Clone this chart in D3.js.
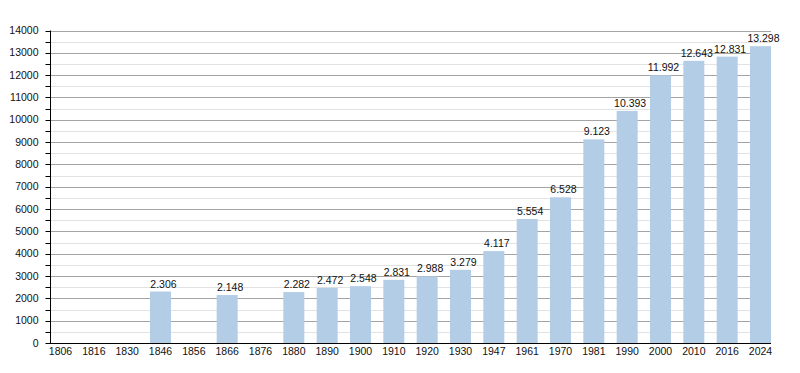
<!DOCTYPE html>
<html>
<head>
<meta charset="utf-8">
<script src="https://cdn.jsdelivr.net/npm/d3@7"></script>
<style>
  html, body { margin: 0; padding: 0; background: #fff; }
  svg { display: block; font-family: "Liberation Sans", Arial, sans-serif; }
</style>
</head>
<body>
<div class="chart"></div>
<script>
var years = ['1806', '1816', '1830', '1846', '1856', '1866', '1876', '1880', '1890', '1900', '1910',
    '1920', '1930', '1947', '1961', '1970', '1981', '1990', '2000', '2010', '2016', '2024'];
var population = [null, null, null, 2306, null, 2148, null, 2282, 2472, 2548, 2831,
    2988, 3279, 4117, 5554, 6528, 9123, 10393, 11992, 12643, 12831, 13298];
var yTicks = [0, 1000, 2000, 3000, 4000, 5000, 6000, 7000, 8000, 9000, 10000, 11000, 12000, 13000, 14000];

draw();

function draw() {
    var width = 800;
    var height = 373;

    var svg = d3.select('.chart')
        .append('svg')
        .attr('width', width)
        .attr('height', height);

    var x = d3.scaleBand()
        .domain(years)
        .range([50, 771])
        .paddingInner(0.37)
        .paddingOuter(0);

    var y = d3.scaleLinear()
        .domain([0, 14000])
        .range([343, 30.5]);

    var minorTicks = d3.range(500, 14000, 1000);

    // grid lines
    svg.append('g')
        .selectAll('line.minor')
        .data(minorTicks)
        .enter()
        .append('line')
        .attr('x1', 50)
        .attr('x2', 771)
        .attr('y1', function (d) { return Math.round(y(d)) + 0.5; })
        .attr('y2', function (d) { return Math.round(y(d)) + 0.5; })
        .attr('stroke', '#e2e2e2');

    svg.append('g')
        .selectAll('line.major')
        .data(yTicks.slice(1))
        .enter()
        .append('line')
        .attr('x1', 50)
        .attr('x2', 771)
        .attr('y1', function (d) { return Math.round(y(d)) + 0.5; })
        .attr('y2', function (d) { return Math.round(y(d)) + 0.5; })
        .attr('stroke', '#a4a4a4');

    // bars
    var data = years.map(function (yr, i) {
        return { year: yr, value: population[i] };
    }).filter(function (d) { return d.value !== null; });

    svg.append('g')
        .selectAll('rect')
        .data(data)
        .enter()
        .append('rect')
        .attr('x', function (d) { return x(d.year); })
        .attr('width', x.bandwidth())
        .attr('y', function (d) { return y(d.value); })
        .attr('height', function (d) { return y(0) - y(d.value); })
        .attr('fill', '#b3cde6');

    var fmt = function (v) {
        return d3.format(',')(v).replace(/,/g, '.');
    };

    svg.append('g')
        .selectAll('text')
        .data(data)
        .enter()
        .append('text')
        .attr('x', function (d) { return x(d.year) + x.bandwidth() / 2 + 3; })
        .attr('y', function (d) { return y(d.value) - 4; })
        .attr('text-anchor', 'middle')
        .attr('font-size', '10.5px')
        .attr('fill', '#111')
        .text(function (d) { return fmt(d.value); });

    // y axis
    var yAxis = svg.append('g')
        .attr('transform', 'translate(50.5,0)');

    yAxis.append('line')
        .attr('y1', y(14000))
        .attr('y2', y(0))
        .attr('stroke', '#000');

    yAxis.selectAll('line.tick')
        .data(yTicks.concat(minorTicks))
        .enter()
        .append('line')
        .attr('x1', -5)
        .attr('x2', 0)
        .attr('y1', function (d) { return Math.round(y(d)) + 0.5; })
        .attr('y2', function (d) { return Math.round(y(d)) + 0.5; })
        .attr('stroke', '#000');

    yAxis.selectAll('text')
        .data(yTicks)
        .enter()
        .append('text')
        .attr('x', -12)
        .attr('y', function (d) { return y(d); })
        .attr('dy', '0.35em')
        .attr('text-anchor', 'end')
        .attr('font-size', '10.5px')
        .attr('fill', '#111')
        .text(function (d) { return d; });

    // x axis
    svg.append('line')
        .attr('x1', 50)
        .attr('x2', 771)
        .attr('y1', 343.5)
        .attr('y2', 343.5)
        .attr('stroke', '#000')
        .attr('stroke-width', 1.2);

    svg.append('g')
        .selectAll('text')
        .data(years)
        .enter()
        .append('text')
        .attr('x', function (d) { return x(d) + x.bandwidth() / 2; })
        .attr('y', 355)
        .attr('text-anchor', 'middle')
        .attr('font-size', '10.5px')
        .attr('fill', '#111')
        .text(function (d) { return d; });
}
</script>
</body>
</html>
